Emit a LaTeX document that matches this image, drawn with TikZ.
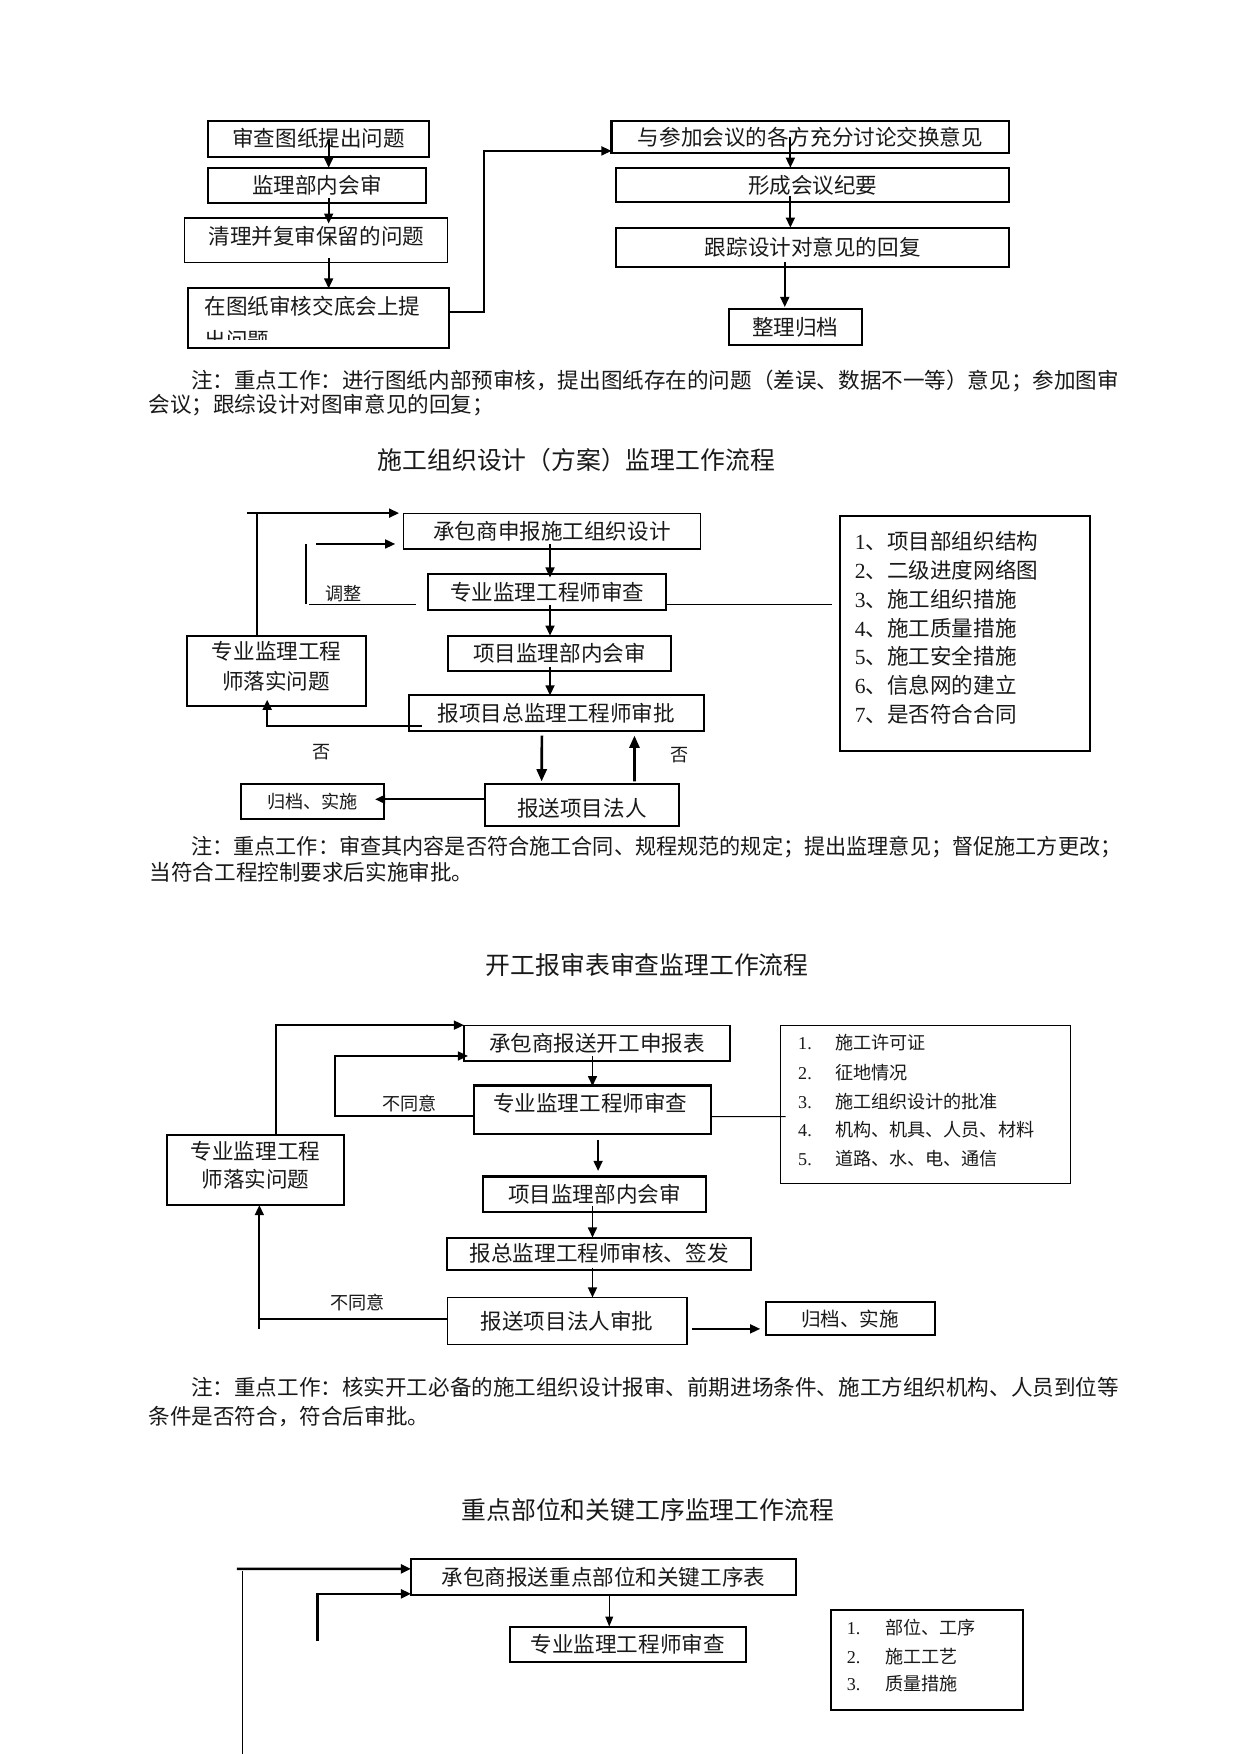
\documentclass[tikz,border=0pt]{standalone}
\usepackage{fontspec}
\setmainfont{Noto Sans CJK SC}
\newfontfamily\lserif{Liberation Serif}
\usetikzlibrary{arrows.meta}
\begin{document}
\begin{tikzpicture}[x=1pt,y=-1pt,
  every node/.style={inner sep=0pt, outer sep=0pt, text=black!90},
  txt/.style={font=\fontsize{19.3}{23}\selectfont, text height=17pt, text depth=2.3pt},
  small/.style={font=\fontsize{16.2}{20}\selectfont, text height=14.3pt, text depth=1.9pt},
  mid/.style={font=\fontsize{17.5}{21}\selectfont, text height=15.4pt, text depth=2.1pt},
  ttl/.style={font=\fontsize{22.2}{26}\selectfont, text height=19.5pt, text depth=2.7pt},
  thinbox/.style={draw, line width=1.1pt},
  thickbox/.style={draw, line width=1.8pt},
  conn/.style={line width=1.6pt},
  thinline/.style={line width=1pt},
  arr/.style={conn, -{Triangle[length=9pt,width=8pt]}},
  bigarr/.style={line width=2.4pt, -{Triangle[length=11pt,width=9pt]}}]
\fill[white] (0,0) rectangle (1110,1569);
\useasboundingbox (0,0) rectangle (1110,1569);

% ---------------- Section 1 ----------------
\node[thickbox, minimum width=198pt, minimum height=32pt, txt] (B1) at (285,124) {审查图纸提出问题};
\node[thickbox, minimum width=195pt, minimum height=32pt, txt] (B2) at (283.5,166) {监理部内会审};
\node[thinbox, minimum width=235pt, minimum height=40pt] (B3) at (282.5,215) {};
\node[txt] (B3t) at (283,211.7) {清理并复审保留的问题};
\node[thickbox, minimum width=234pt, minimum height=53.5pt] (B4) at (285,284.75) {};
\node[txt, anchor=west] (B4t) at (183,273.7) {在图纸审核交底会上提};
\begin{scope}
\clip (168,258) rectangle (402,303.5);
\node[txt, anchor=west] (B4u) at (183,304) {出问题};
\end{scope}

\node[thickbox, minimum width=356pt, minimum height=29pt, txt] (R1) at (725,122.5) {与参加会议的各方充分讨论交换意见};
\node[thickbox, minimum width=352pt, minimum height=31pt, txt] (R2) at (727,165.5) {形成会议纪要};
\node[thickbox, minimum width=352pt, minimum height=35.4pt, txt] (R3) at (727,221.3) {跟踪设计对意见的回复};
\node[thickbox, minimum width=119pt, minimum height=32pt, txt] (R4) at (711.5,292.6) {整理归档};

\draw[arr] ([xshift=9pt]B1.center) -- ([xshift=10.5pt]B2.north);
\draw[arr] ([xshift=10.5pt,yshift=-11pt]B2.center) -- ([xshift=11.5pt,yshift=-5pt]B3.north);
\draw[arr] ([xshift=11.5pt,yshift=4pt]B3.south) -- ([xshift=9pt]B4.north);
\coordinate (c1) at (433,135);
\draw[arr] ([yshift=5.4pt]B4.east) -| (c1) -- (R1.west |- c1);
\draw[arr] ([xshift=-18pt]R1.center) -- ([xshift=-20pt]R2.north);
\draw[arr] ([xshift=-20pt,yshift=-10pt]R2.center) -- ([xshift=-20pt]R3.north);
\draw[arr] ([xshift=-25pt,yshift=-13pt]R3.center) -- ([xshift=-9.5pt,yshift=2pt]R4.north);

\node[txt, anchor=west] (N1a) at (171,340) {注：重点工作：进行图纸内部预审核，提出图纸存在的问题（差误、数据不一等）意见；参加图审};
\node[txt, anchor=west] (N1b) at (133,362) {会议；跟综设计对图审意见的回复；};

% ---------------- Section 2 ----------------
\node[ttl] (T2) at (515.5,412) {施工组织设计（方案）监理工作流程};

\node[thinbox, minimum width=265.6pt, minimum height=32pt, txt] (S2A) at (493.8,475) {承包商申报施工组织设计};
\node[thickbox, minimum width=213pt, minimum height=32pt, txt] (S2B) at (489.5,529.6) {专业监理工程师审查};
\node[thickbox, minimum width=199pt, minimum height=31.4pt, txt] (S2C) at (500.5,584.3) {项目监理部内会审};
\node[thickbox, minimum width=264.5pt, minimum height=32pt, txt] (S2D) at (497.75,638) {报项目总监理工程师审批};
\node[thickbox, minimum width=159.3pt, minimum height=62.9pt] (S2E) at (247.35,600) {};
\node[txt] (S2Ea) at (247.5,583) {专业监理工程};
\node[txt] (S2Eb) at (247,609) {师落实问题};
\node[thickbox, minimum width=127.6pt, minimum height=31.6pt, small] (S2F) at (279.8,716.8) {归档、实施};
\node[thickbox, minimum width=174pt, minimum height=38pt] (S2G) at (520.5,720) {};
\node[txt] (S2Gt) at (520.5,723) {报送项目法人};
\node[thickbox, minimum width=224pt, minimum height=209.4pt] (I2) at (863,566.7) {};
\node[txt, anchor=west] (I2a) at (764.6,484.5) {{\lserif 1}、项目部组织结构};
\node[txt, anchor=west] (I2b) at (764.6,510.2) {{\lserif 2}、二级进度网络图};
\node[txt, anchor=west] (I2c) at (764.6,536) {{\lserif 3}、施工组织措施};
\node[txt, anchor=west] (I2d) at (764.6,561.7) {{\lserif 4}、施工质量措施};
\node[txt, anchor=west] (I2e) at (764.6,587.4) {{\lserif 5}、施工安全措施};
\node[txt, anchor=west] (I2f) at (764.6,613.3) {{\lserif 6}、信息网的建立};
\node[txt, anchor=west] (I2g) at (764.6,639) {{\lserif 7}、是否符合合同};

\draw[arr] ([xshift=-1.8pt,yshift=-12pt]S2A.center) -- ([xshift=2.5pt,yshift=-3pt]S2B.north);
\draw[arr] ([xshift=2.5pt,yshift=-12pt]S2B.center) -- ([xshift=-8.5pt]S2C.north);
\draw[arr] ([xshift=-8.5pt,yshift=-12pt]S2C.center) -- ([xshift=-5.75pt]S2D.north);
\draw[bigarr] ([xshift=-13pt,yshift=-4pt]S2D.south) -- ([xshift=-36pt,yshift=2pt]S2G.north);
\draw[bigarr] ([xshift=47pt,yshift=2pt]S2G.north) -- ([xshift=69.8pt,yshift=-4pt]S2D.south);
\draw[arr] ([yshift=5pt]S2G.west) -- ([xshift=-8pt,yshift=1.8pt]S2F.east);
\draw[arr] ([xshift=12pt,yshift=4.6pt]S2D.south west) -| ([xshift=-8.35pt,yshift=5.5pt]S2E.south);
\coordinate (c2a) at (221,459);
\draw[conn] ([xshift=-17.65pt]S2E.north) |- (c2a);
\draw[arr] (c2a) -- ([xshift=-4pt]S2A.north west);
\coordinate (t1) at (273.7,486.6);
\coordinate (t2) at (273.7,540);
\coordinate (t3) at (276.5,541);
\coordinate (t4) at (282.7,486.6);
\draw[conn] (t1) -- (t2);
\draw[thinline] (t3) -- ([xshift=-11pt,yshift=-11.4pt]S2B.west);
\draw[arr] (t4) -- ([xshift=-7.5pt,yshift=-11.6pt]S2A.west);
\draw[thinline] ([yshift=-11.4pt]S2B.east) -- ([xshift=-7pt,yshift=25.7pt]I2.west);
\node[small] (L2a) at (307,530.6) {调整};
\node[small] (L2b) at (288,672) {否};
\node[small] (L2c) at (607.5,675) {否};

\node[txt, anchor=west] (N2a) at (171,757) {\scalebox{0.98}[1]{注：重点工作：审查其内容是否符合施工合同、规程规范的规定；提出监理意见；督促施工方更改；}};
\node[txt, anchor=west] (N2b) at (134,780) {当符合工程控制要求后实施审批。};

% ---------------- Section 3 ----------------
\node[ttl] (T3) at (579,863) {开工报审表审查监理工作流程};

\node[thinbox, minimum width=238pt, minimum height=32pt, txt] (S3A) at (534,933) {承包商报送开工申报表};
\node[thickbox, minimum width=212pt, minimum height=43pt] (S3B) at (530,992.5) {};
\node[txt] (S3Bt) at (528,986.8) {专业监理工程师审查};
\node[thickbox, minimum width=199.6pt, minimum height=31.6pt, txt] (S3C) at (531.8,1068.2) {项目监理部内会审};
\node[thickbox, minimum width=272pt, minimum height=29pt, txt] (S3D) at (536,1121.5) {报总监理工程师审核、签发};
\node[thinbox, minimum width=214.6pt, minimum height=42.4pt, txt] (S3E) at (507.3,1181.8) {报送项目法人审批};
\node[thickbox, minimum width=158.3pt, minimum height=63pt] (S3F) at (228.15,1046.5) {};
\node[txt] (S3Fa) at (228.6,1029.5) {专业监理工程};
\node[txt] (S3Fb) at (228.6,1054.6) {师落实问题};
\node[thickbox, minimum width=151pt, minimum height=29pt, mid] (S3G) at (760.5,1179.5) {归档、实施};
\node[thinbox, minimum width=259.7pt, minimum height=141pt] (I3) at (827.85,987.9) {};
\node[small, anchor=west] (I3n1) at (714,933) {\lserif 1.};
\node[small, anchor=west] (I3a) at (747,933) {施工许可证};
\node[small, anchor=west] (I3n2) at (714,959) {\lserif 2.};
\node[small, anchor=west] (I3b) at (747,959) {征地情况};
\node[small, anchor=west] (I3n3) at (714,985) {\lserif 3.};
\node[small, anchor=west] (I3c) at (747,985) {施工组织设计的批准};
\node[small, anchor=west] (I3n4) at (714,1010.6) {\lserif 4.};
\node[small, anchor=west] (I3d) at (747,1010.6) {机构、机具、人员、材料};
\node[small, anchor=west] (I3n5) at (714,1036.7) {\lserif 5.};
\node[small, anchor=west] (I3e) at (747,1036.7) {道路、水、电、通信};

\draw[arr] ([xshift=-4pt,yshift=-12pt]S3A.center) -- ([yshift=-0.5pt]S3B.north);
\draw[arr] ([xshift=5pt,yshift=-5.6pt]S3B.south) -- ([xshift=3.2pt,yshift=5pt]S3C.north);
\draw[arr] ([xshift=-1.8pt,yshift=-10.8pt]S3C.center) -- ([xshift=-6pt]S3D.north);
\draw[arr] ([xshift=-6pt,yshift=2pt]S3D.south) -- ([xshift=22.7pt]S3E.north);
\draw[arr] ([xshift=18.85pt]S3F.north) |- (S3A.north west);
\coordinate (c3b) at (300,998);
\draw[arr] ([yshift=-5.5pt]S3B.west) -- (c3b) |- ([xshift=3.6pt,yshift=4.4pt]S3A.south west);
\coordinate (c3e) at (232,1189);
\draw[conn] ([yshift=2.1pt]S3E.west) -| (c3e);
\draw[arr] (c3e) -- ([xshift=3.85pt]S3F.south);
\draw[thinline] ([yshift=-6.3pt]S3B.east) -- ([xshift=4.7pt,yshift=-10.9pt]I3.west);
\draw[arr] ([xshift=4.4pt,yshift=-6.9pt]S3E.east) -- ([xshift=-5pt,yshift=-9.2pt]S3G.west);
\node[small] (L3a) at (366.7,986.8) {不同意};
\node[small] (L3b) at (319.8,1165) {不同意};

\node[txt, anchor=west] (N3a) at (171,1241) {注：重点工作：核实开工必备的施工组织设计报审、前期进场条件、施工方组织机构、人员到位等};
\node[txt, anchor=west] (N3b) at (133,1267) {条件是否符合，符合后审批。};

% ---------------- Section 4 ----------------
\node[ttl] (T4) at (579.5,1351) {重点部位和关键工序监理工作流程};

\node[thickbox, minimum width=344.4pt, minimum height=32pt, txt] (S4A) at (539.8,1410.6) {承包商报送重点部位和关键工序表};
\node[thickbox, minimum width=211pt, minimum height=31.6pt, txt] (S4B) at (561.5,1470.8) {专业监理工程师审查};
\node[thickbox, minimum width=172pt, minimum height=89.5pt] (I4) at (829,1484.75) {};
\node[small, anchor=west] (I4n1) at (757.6,1456) {\lserif 1.};
\node[small, anchor=west] (I4a) at (791.7,1456) {部位、工序};
\node[small, anchor=west] (I4n2) at (757.6,1482) {\lserif 2.};
\node[small, anchor=west] (I4b) at (791.7,1482) {施工工艺};
\node[small, anchor=west] (I4n3) at (757.6,1506) {\lserif 3.};
\node[small, anchor=west] (I4c) at (791.7,1506) {质量措施};

\draw[thinline, -{Triangle[length=9pt,width=7pt]}] ([xshift=5.2pt,yshift=-1.4pt]S4A.south) -- ([xshift=-16.5pt]S4B.north);
\coordinate (c4a) at (211.8,1403.4);
\coordinate (c4b) at (217,1405.7);
\coordinate (c4c) at (217,1569);
\coordinate (c4d) at (284,1467.5);
\draw[arr, line width=2.2pt] (c4a) -- ([yshift=7.2pt]S4A.west);
\draw[thinline] (c4b) -- (c4c);
\draw[arr, line width=2.2pt] (c4d) |- ([yshift=-15.1pt]S4A.west);
\end{tikzpicture}
\end{document}
